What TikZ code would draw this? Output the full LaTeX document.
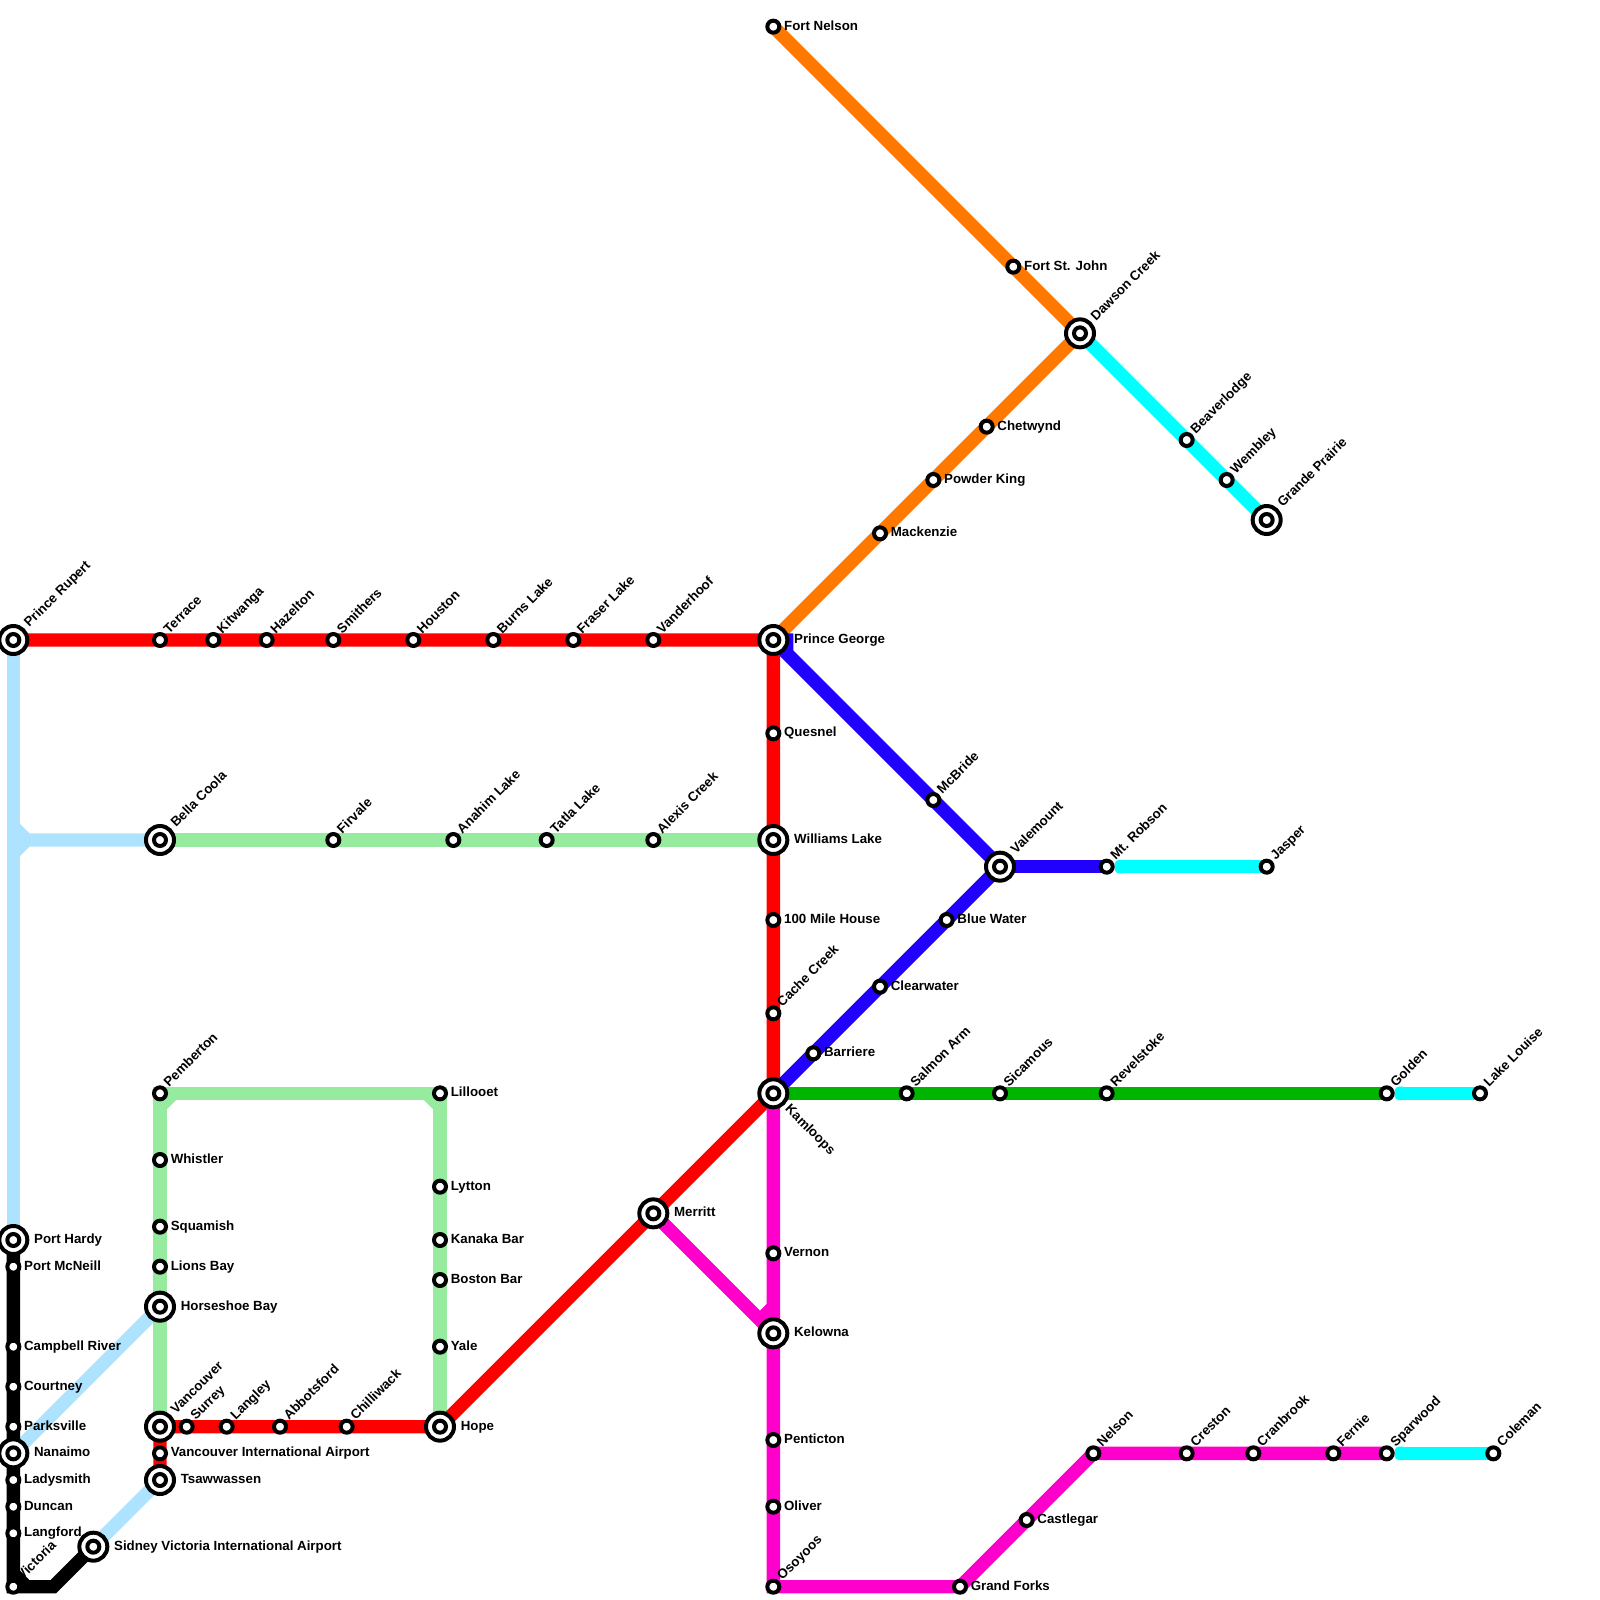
\documentclass[tikz,border=0pt]{standalone}
\usepackage{fontspec}
\setmainfont{Liberation Sans}[BoldFont={Liberation Sans Bold}]
\usetikzlibrary{backgrounds}
\definecolor{lred}{HTML}{FF0000}
\definecolor{lsky}{HTML}{AEE3FF}
\definecolor{lmint}{HTML}{96EB9E}
\definecolor{lorange}{HTML}{FF7900}
\definecolor{lblue}{HTML}{2200FF}
\definecolor{lmag}{HTML}{FF00CC}
\definecolor{lcyan}{HTML}{00FFFF}
\definecolor{ldgreen}{HTML}{00B500}
\tikzset{
  x=13.3333pt,y=-13.3333pt,
  metro/.style={line width=13.3333pt,line join=miter,miter limit=10,line cap=butt},
  smallst/.style={circle,draw=black,fill=white,line width=4pt,minimum size=12pt,inner sep=0pt},
  bigouter/.style={circle,draw=black,fill=white,line width=4pt,minimum size=28pt,inner sep=0pt},
  biginner/.style={circle,draw=black,fill=white,line width=4pt,minimum size=12pt,inner sep=0pt},
  lbl/.style={font=\bfseries\fontsize{13.3}{13.3}\selectfont,inner sep=0pt,text=black},
  softend/.style={fill=lcyan,rounded corners=4pt},
}
% id, x, y: small station
\newcommand{\sst}[3]{\node[smallst] (#1) at (#2,#3) {};}
\newcommand{\bst}[3]{\node[bigouter] (#1) at (#2,#3) {}; \node[biginner] (#1-i) at (#2,#3) {};}
% labels: id, text
\newcommand{\sE}[2]{\node[lbl,anchor=base west] (#1-l) at ([shift={(10.6pt,-3.4pt)}]#1.center) {#2};}
\newcommand{\bE}[2]{\node[lbl,anchor=base west] (#1-l) at ([shift={(20.6pt,-3.4pt)}]#1.center) {#2};}
\newcommand{\sN}[2]{\node[lbl,anchor=base west,rotate=45] (#1-l) at ([shift={(9pt,5.8pt)}]#1.center) {#2};}
\newcommand{\bN}[2]{\node[lbl,anchor=base west,rotate=45] (#1-l) at ([shift={(16pt,12pt)}]#1.center) {#2};}
\begin{document}
\begin{tikzpicture}
\useasboundingbox (0,0) rectangle (120,120);
% stations
\bst{prupert}{1}{48}\sst{terrace}{12}{48}\sst{kitwanga}{16}{48}\sst{hazelton}{20}{48}\sst{smithers}{25}{48}\sst{houston}{31}{48}\sst{burns}{37}{48}\sst{fraser}{43}{48}\sst{vanderhoof}{49}{48}\bst{pg}{58}{48}
\sst{fnelson}{58}{2}\sst{fsj}{76}{20}\bst{dawson}{81}{25}\sst{chetwynd}{74}{32}\sst{powder}{70}{36}\sst{mackenzie}{66}{40}
\sst{beaver}{89}{33}\sst{wembley}{92}{36}\bst{grande}{95}{39}
\sst{quesnel}{58}{55}\bst{williams}{58}{63}\sst{hundred}{58}{69}\sst{cache}{58}{76}\bst{kamloops}{58}{82}
\sst{mcbride}{70}{60}\bst{valemount}{75}{65}\sst{robson}{83}{65}\sst{jasper}{95}{65}
\sst{bluewater}{71}{69}\sst{clearwater}{66}{74}\sst{barriere}{61}{79}
\sst{salmon}{68}{82}\sst{sicamous}{75}{82}\sst{revelstoke}{83}{82}\sst{golden}{104}{82}\sst{louise}{111}{82}
\bst{merritt}{49}{91}\sst{vernon}{58}{94}\bst{kelowna}{58}{100}\sst{penticton}{58}{108}\sst{oliver}{58}{113}\sst{osoyoos}{58}{119}
\sst{gforks}{72}{119}\sst{castlegar}{77}{114}\sst{nelson}{82}{109}\sst{creston}{89}{109}\sst{cranbrook}{94}{109}\sst{fernie}{100}{109}\sst{sparwood}{104}{109}\sst{coleman}{112}{109}
\bst{hope}{33}{107}\sst{chilliwack}{26}{107}\sst{abbotsford}{21}{107}\sst{langley}{17}{107}\sst{surrey}{14}{107}\bst{vancouver}{12}{107}\sst{yvr}{12}{109}\bst{tsaw}{12}{111}\bst{sidney}{7}{116}
\sst{victoria}{1}{119}\bst{phardy}{1}{93}\sst{mcneill}{1}{95}\sst{campbell}{1}{101}\sst{courtney}{1}{104}\sst{parksville}{1}{107}\bst{nanaimo}{1}{109}\sst{ladysmith}{1}{111}\sst{duncan}{1}{113}\sst{langford}{1}{115}
\bst{horseshoe}{12}{98}\sst{lions}{12}{95}\sst{squamish}{12}{92}\sst{whistler}{12}{87}\sst{pemberton}{12}{82}
\sst{lillooet}{33}{82}\sst{lytton}{33}{89}\sst{kanaka}{33}{93}\sst{boston}{33}{96}\sst{yale}{33}{101}
\bst{bella}{12}{63}\sst{firvale}{25}{63}\sst{anahim}{34}{63}\sst{tatla}{41}{63}\sst{alexis}{49}{63}
% bend points
\coordinate (skyA) at (1,62);\coordinate (skyB) at (2,63);\coordinate (skyC) at (1,64);\coordinate (skyJ) at (1,63);
\coordinate (pemA) at (12,83);\coordinate (pemB) at (13,82);
\coordinate (lilA) at (32,82);\coordinate (lilB) at (33,83);
\coordinate (kelA) at (58,98);\coordinate (kelB) at (57,99);
\coordinate (vicA) at (1,118);\coordinate (vicB) at (2,119);\coordinate (vicC) at (4,119);
\coordinate (pgA) at (59,48);\coordinate (pgB) at (59,49);
\begin{scope}[on background layer]
\draw[metro,lsky] (prupert.center)--(phardy.center);
\draw[metro,lsky] (skyJ)--(bella.center) (skyA)--(skyB) (skyB)--(skyC);
\draw[metro,lsky] (horseshoe.center)--(nanaimo.center);
\draw[metro,lsky] (tsaw.center)--(sidney.center);
\draw[metro,lmint] (bella.center)--(williams.center);
\draw[metro,lmint] (horseshoe.center)--(vancouver.center);
\draw[metro,lmint] (horseshoe.center)--(pemberton.center)--(lillooet.center)--(hope.center);
\draw[metro,lmint] (pemA)--(pemB) (lilA)--(lilB);
\draw[metro,lred] (prupert.center)--(pg.center)--(kamloops.center)--(hope.center)--(vancouver.center)--(tsaw.center);
\draw[metro,lorange] (fnelson.center)--(dawson.center);
\draw[metro,lorange] (dawson.center)--(pg.center);
\draw[metro,lcyan] (dawson.center)--(grande.center);
\draw[metro,lblue] (pg.center)--(pgA)--(pgB)--(valemount.center)--(kamloops.center);
\draw[metro,lblue] (valemount.center)--(robson.center);
\draw[metro,lcyan] ([xshift=14pt]robson.center)--(jasper.center);
\fill[softend] ([shift={(8pt,6.6667pt)}]robson.center) rectangle ([shift={(20pt,-6.6667pt)}]robson.center);
\draw[metro,ldgreen] (kamloops.center)--(golden.center);
\draw[metro,lcyan] ([xshift=14pt]golden.center)--(louise.center);
\fill[softend] ([shift={(8pt,6.6667pt)}]golden.center) rectangle ([shift={(20pt,-6.6667pt)}]golden.center);
\draw[metro,lmag] (kamloops.center)--(osoyoos.center)--(gforks.center)--(nelson.center)--(sparwood.center);
\draw[metro,lmag] (merritt.center)--(kelowna.center) (kelA)--(kelB);
\draw[metro,lcyan] ([xshift=14pt]sparwood.center)--(coleman.center);
\fill[softend] ([shift={(8pt,6.6667pt)}]sparwood.center) rectangle ([shift={(20pt,-6.6667pt)}]sparwood.center);
\draw[metro,black] (phardy.center)--(victoria.center)--(vicC)--(sidney.center);
\draw[metro,black] (vicA)--(vicB);
\end{scope}
% labels
\bN{prupert}{Prince Rupert}\sN{terrace}{Terrace}\sN{kitwanga}{Kitwanga}\sN{hazelton}{Hazelton}\sN{smithers}{Smithers}\sN{houston}{Houston}\sN{burns}{Burns Lake}\sN{fraser}{Fraser Lake}\sN{vanderhoof}{Vanderhoof}
\bE{pg}{Prince George}
\sE{fnelson}{Fort Nelson}\sE{fsj}{Fort St. John}\bN{dawson}{Dawson Creek}\sE{chetwynd}{Chetwynd}\sE{powder}{Powder King}\sE{mackenzie}{Mackenzie}
\sN{beaver}{Beaverlodge}\sN{wembley}{Wembley}\bN{grande}{Grande Prairie}
\sE{quesnel}{Quesnel}\bE{williams}{Williams Lake}\sE{hundred}{100 Mile House}\sN{cache}{Cache Creek}
\node[lbl,anchor=base west,rotate=-45] (kamloops-l) at ([shift={(11.2pt,-16.5pt)}]kamloops.center) {Kamloops};
\sN{mcbride}{McBride}\bN{valemount}{Valemount}\sN{robson}{Mt. Robson}\sN{jasper}{Jasper}
\sE{bluewater}{Blue Water}\sE{clearwater}{Clearwater}\sE{barriere}{Barriere}
\sN{salmon}{Salmon Arm}\sN{sicamous}{Sicamous}\sN{revelstoke}{Revelstoke}\sN{golden}{Golden}\sN{louise}{Lake Louise}
\bE{merritt}{Merritt}\sE{vernon}{Vernon}\bE{kelowna}{Kelowna}\sE{penticton}{Penticton}\sE{oliver}{Oliver}\sN{osoyoos}{Osoyoos}
\sE{gforks}{Grand Forks}\sE{castlegar}{Castlegar}\sN{nelson}{Nelson}\sN{creston}{Creston}\sN{cranbrook}{Cranbrook}\sN{fernie}{Fernie}\sN{sparwood}{Sparwood}\sN{coleman}{Coleman}
\bE{hope}{Hope}\sN{chilliwack}{Chilliwack}\sN{abbotsford}{Abbotsford}\sN{langley}{Langley}\sN{surrey}{Surrey}\bN{vancouver}{Vancouver}\sE{yvr}{Vancouver International Airport}\bE{tsaw}{Tsawwassen}\bE{sidney}{Sidney Victoria International Airport}
\sN{victoria}{Victoria}\bE{phardy}{Port Hardy}\sE{mcneill}{Port McNeill}\sE{campbell}{Campbell River}\sE{courtney}{Courtney}\sE{parksville}{Parksville}\bE{nanaimo}{Nanaimo}\sE{ladysmith}{Ladysmith}\sE{duncan}{Duncan}\sE{langford}{Langford}
\bE{horseshoe}{Horseshoe Bay}\sE{lions}{Lions Bay}\sE{squamish}{Squamish}\sE{whistler}{Whistler}\sN{pemberton}{Pemberton}
\sE{lillooet}{Lillooet}\sE{lytton}{Lytton}\sE{kanaka}{Kanaka Bar}\sE{boston}{Boston Bar}\sE{yale}{Yale}
\bN{bella}{Bella Coola}\sN{firvale}{Firvale}\sN{anahim}{Anahim Lake}\sN{tatla}{Tatla Lake}\sN{alexis}{Alexis Creek}
\end{tikzpicture}
\end{document}
